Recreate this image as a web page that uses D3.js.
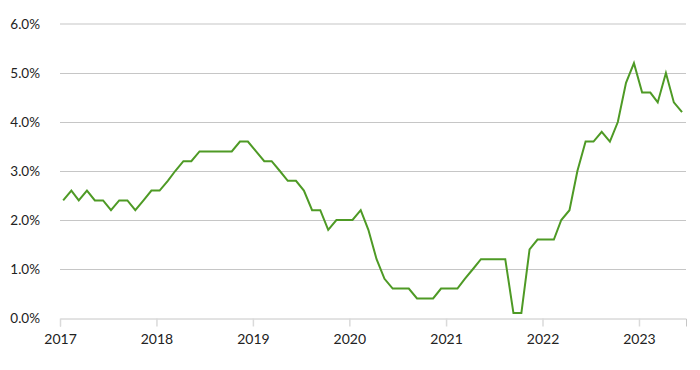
<!DOCTYPE html>
<html>
<head>
<meta charset="utf-8">
<script src="https://cdn.jsdelivr.net/npm/d3@7"></script>
<style>
  body { margin: 0; background: #fff; }
  svg text { font-family: Lato, "Noto Sans", sans-serif; fill: #222; }
</style>
</head>
<body>
<div id="viz"></div>
<script>
/* monthly series, Jan 2017 .. Jun 2023 (percent) */
const firstMonth = "2017-01";
const rates = [
  2.4, 2.6, 2.4, 2.6, 2.4, 2.4, 2.2, 2.4, 2.4, 2.2, 2.4, 2.6,
  2.6, 2.8, 3.0, 3.2, 3.2, 3.4, 3.4, 3.4, 3.4, 3.4, 3.6, 3.6,
  3.4, 3.2, 3.2, 3.0, 2.8, 2.8, 2.6, 2.2, 2.2, 1.8, 2.0, 2.0,
  2.0, 2.2, 1.8, 1.2, 0.8, 0.6, 0.6, 0.6, 0.4, 0.4, 0.4, 0.6,
  0.6, 0.6, 0.8, 1.0, 1.2, 1.2, 1.2, 1.2, 0.1, 0.1, 1.4, 1.6,
  1.6, 1.6, 2.0, 2.2, 3.0, 3.6, 3.6, 3.8, 3.6, 4.0, 4.8, 5.2,
  4.6, 4.6, 4.4, 5.0, 4.4, 4.2
];
const yTicks = [0, 1, 2, 3, 4, 5, 6];
const xTicks = [2017, 2018, 2019, 2020, 2021, 2022, 2023];

const parseMonth = d3.timeParse("%Y-%m");
const start = parseMonth(firstMonth);
// points sit a little inside each month
const data = rates.map((v, i) => ({
  date: d3.timeDay.offset(d3.timeMonth.offset(start, i), 12),
  value: v
}));

const width = 700, height = 370;
const margin = { top: 24, right: 14, bottom: 52, left: 60 };

const svg = d3.select("#viz")
  .append("svg")
  .attr("width", width)
  .attr("height", height);

// X scale -> time
const x = d3.scaleTime()
  .domain([new Date(2017, 0, 1), new Date(2023, 5, 28)])
  .range([margin.left, width - margin.right]);

// Y scale -> percent
const y = d3.scaleLinear()
  .domain([0, 6])
  .range([height - margin.bottom, margin.top]);

// Gridlines
svg.append("g")
  .selectAll("line")
  .data(yTicks.filter(d => d > 0))
  .join("line")
  .attr("x1", margin.left)
  .attr("x2", width - margin.right)
  .attr("y1", d => y(d) + (d === 6 ? 0 : 0.5))
  .attr("y2", d => y(d) + (d === 6 ? 0 : 0.5))
  .attr("stroke", d => d === 6 ? "#e2e2e2" : "#c6c6c6")
  .attr("stroke-width", d => d === 6 ? 2 : 1);

// Y labels
svg.append("g")
  .selectAll("text")
  .data(yTicks)
  .join("text")
  .attr("x", 40)
  .attr("y", d => y(d))
  .attr("dy", "0.35em")
  .attr("text-anchor", "end")
  .style("font-size", "13.5px")
  .text(d => d.toFixed(1) + "%");

// X axis
const xAxis = svg.append("g")
  .attr("transform", `translate(0,${y(0) + 0.5})`)
  .call(d3.axisBottom(x)
    .tickValues(xTicks.map(yr => new Date(yr, 0, 1)))
    .tickFormat(d3.timeFormat("%Y"))
    .tickSizeOuter(0)
    .tickSize(8)
    .tickPadding(8));

xAxis.select(".domain").attr("stroke", "#c6c6c6");
xAxis.selectAll(".tick line")
  .attr("stroke", "#dadada")
  .attr("stroke-width", 1.5);
xAxis.selectAll(".tick text")
  .style("font-size", "14px")
  .attr("fill", "#222");

// Line
const line = d3.line()
  .x(d => x(d.date))
  .y(d => y(d.value));

svg.append("path")
  .datum(data)
  .attr("fill", "none")
  .attr("stroke", "#4e9a25")
  .attr("stroke-width", 2)
  .attr("stroke-linejoin", "miter")
  .attr("d", line);
</script>
</body>
</html>
